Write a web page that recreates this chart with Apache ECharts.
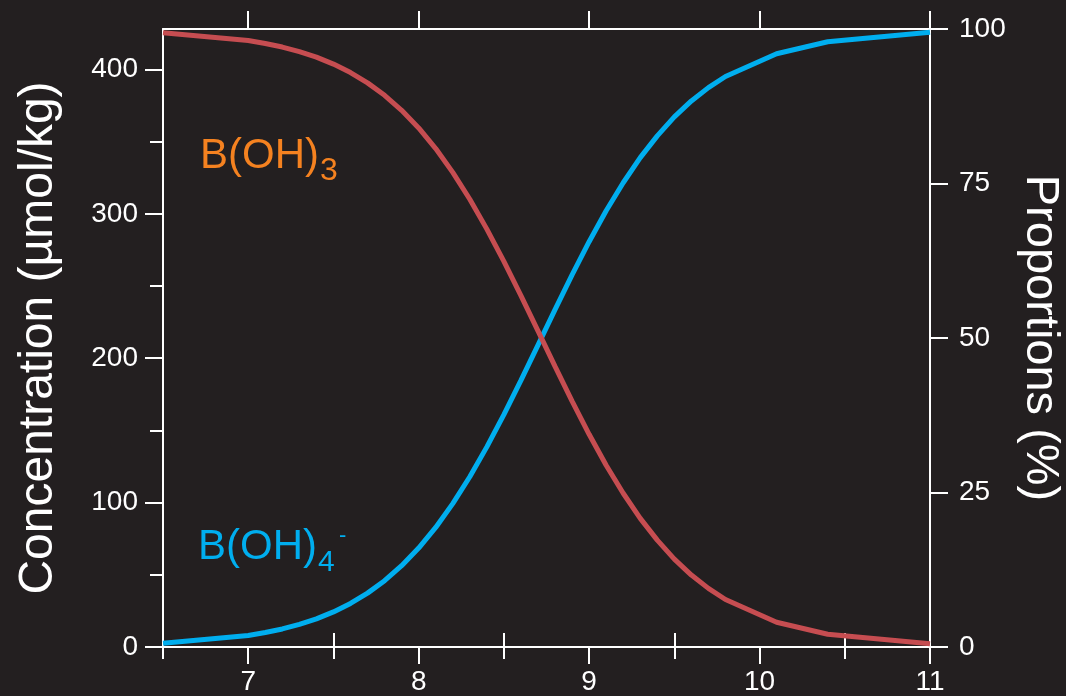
<!DOCTYPE html>
<html>
<head>
<meta charset="utf-8">
<script src="https://cdn.jsdelivr.net/npm/echarts@6/dist/echarts.min.js"></script>
<style>
html,body{margin:0;padding:0;background:#231f20;}
#chart{width:1066px;height:696px;}
</style>
</head>
<body>
<div id="chart"></div>
<script>
// pH values
const pH = [6.5, 7.0, 7.1, 7.2, 7.3, 7.4, 7.5, 7.6, 7.7, 7.8, 7.9, 8.0, 8.1, 8.2, 8.3, 8.4, 8.5, 8.6, 8.7, 8.8, 8.9, 9.0, 9.1, 9.2, 9.3, 9.4, 9.5, 9.6, 9.7, 9.8, 10.1, 10.4, 11.0];
// B(OH)4- concentration (µmol/kg)
const borate = [2.6, 8.0, 10.0, 12.5, 15.7, 19.5, 24.3, 30.2, 37.3, 45.9, 56.3, 68.5, 82.8, 99.3, 117.9, 138.6, 160.9, 184.6, 209.1, 233.7, 257.7, 280.7, 302.1, 321.5, 338.9, 354.0, 367.1, 378.2, 387.4, 395.1, 410.9, 419.2, 425.8];
// B(OH)3 concentration (µmol/kg)
const boricAcid = [425.4, 420.0, 418.0, 415.5, 412.3, 408.5, 403.7, 397.8, 390.7, 382.1, 371.7, 359.5, 345.2, 328.7, 310.1, 289.4, 267.1, 243.4, 218.9, 194.3, 170.3, 147.3, 125.9, 106.5, 89.1, 74.0, 60.9, 49.8, 40.6, 32.9, 17.1, 8.8, 2.2];
// tick values
const xMajorTicks = [7, 8, 9, 10, 11];
const xMinorTicks = [6.5, 7.5, 8.5, 9.5, 10.5];
const yLeftMajor = [0, 100, 200, 300, 400];
const yLeftMinor = [50, 150, 250, 350];
const yRightTicks = [0, 25, 50, 75, 100];

const FONT = 'Liberation Sans, Arial, sans-serif';
const WHITE = '#ffffff';
const line = {show: true, onZero: false, lineStyle: {color: WHITE, width: 2}};
const noLine = {show: false};
const tick = (len, vals) => ({show: true, length: len, customValues: vals, lineStyle: {color: WHITE, width: 2}});
const lbl = (vals, margin) => ({show: true, customValues: vals, color: WHITE, fontSize: 28, fontFamily: FONT, margin: margin});

const chart = echarts.init(document.getElementById('chart'), null, {renderer: 'canvas'});
chart.setOption({
  backgroundColor: '#231f20',
  animation: false,
  grid: {left: 163, right: 136, top: 29, bottom: 49, containLabel: false, outerBoundsMode: 'none'},
  xAxis: [
    {type: 'value', min: 6.5, max: 11, position: 'bottom', axisLine: line, axisTick: tick(17, xMajorTicks), axisLabel: lbl(xMajorTicks, 21), splitLine: {show: false}},
    {type: 'value', min: 6.5, max: 11, position: 'bottom', axisLine: noLine, axisTick: tick(12, xMinorTicks), axisLabel: {show: false}, splitLine: {show: false}},
    {type: 'value', min: 6.5, max: 11, position: 'top', axisLine: line, axisTick: tick(18, xMajorTicks), axisLabel: {show: false}, splitLine: {show: false}},
    {type: 'value', min: 6.5, max: 11, position: 'top', axisLine: noLine, axisTick: tick(14, xMinorTicks), axisLabel: {show: false}, splitLine: {show: false}}
  ],
  yAxis: [
    {type: 'value', min: 0, max: 428, position: 'left', axisLine: line, axisTick: tick(18, yLeftMajor), axisLabel: lbl(yLeftMajor, 25), splitLine: {show: false},
     name: 'Concentration (µmol/kg)', nameLocation: 'middle', nameGap: 100, nameTextStyle: {color: WHITE, fontSize: 48, fontFamily: FONT}},
    {type: 'value', min: 0, max: 428, position: 'left', axisLine: noLine, axisTick: tick(13, yLeftMinor), axisLabel: {show: false}, splitLine: {show: false}},
    {type: 'value', min: 0, max: 100, position: 'right', axisLine: line, axisTick: tick(18, yRightTicks), axisLabel: lbl(yRightTicks, 29), splitLine: {show: false},
     name: 'Proportions (%)', nameLocation: 'middle', nameRotate: -90, nameGap: 78, nameTextStyle: {color: WHITE, fontSize: 47, fontFamily: FONT}}
  ],
  series: [
    {name: 'B(OH)4-', type: 'line', xAxisIndex: 0, yAxisIndex: 0, showSymbol: false, smooth: false,
     lineStyle: {color: '#00aeef', width: 5}, data: pH.map((x, i) => [x, borate[i]])},
    {name: 'B(OH)3', type: 'line', xAxisIndex: 0, yAxisIndex: 0, showSymbol: false, smooth: false,
     lineStyle: {color: '#c64d51', width: 5}, data: pH.map((x, i) => [x, boricAcid[i]])}
  ],
  graphic: [
    {type: 'text', left: 200, top: 135, style: {text: 'B(OH)', fill: '#f58220', fontSize: 42, fontFamily: FONT}},
    {type: 'text', left: 320, top: 155, style: {text: '3', fill: '#f58220', fontSize: 32, fontFamily: FONT}},
    {type: 'text', left: 198, top: 526, style: {text: 'B(OH)', fill: '#00aeef', fontSize: 42, fontFamily: FONT}},
    {type: 'text', left: 318, top: 548, style: {text: '4', fill: '#00aeef', fontSize: 30, fontFamily: FONT}},
    {type: 'text', left: 339, top: 525, style: {text: '-', fill: '#00aeef', fontSize: 22, fontFamily: FONT}}
  ]
});
</script>
</body>
</html>
